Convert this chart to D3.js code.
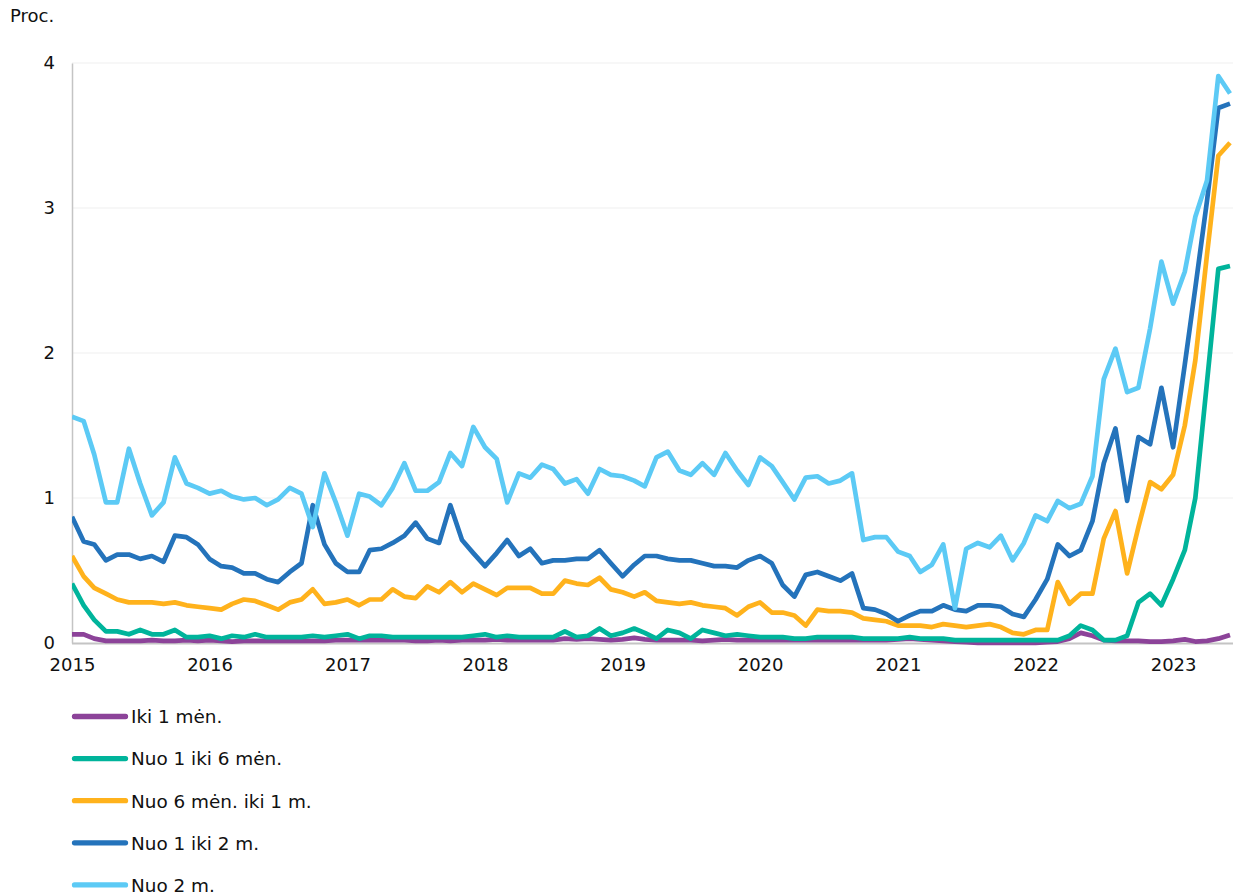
<!DOCTYPE html>
<html>
<head>
<meta charset="utf-8">
<script src="https://cdn.jsdelivr.net/npm/d3@7"></script>
<style>
  html, body { margin: 0; padding: 0; background: #fff; }
  svg { display: block; font-family: "DejaVu Sans", Verdana, sans-serif; }
</style>
</head>
<body>
<svg id="chart" width="1233" height="895"></svg>
<script>
// ---- Data (monthly, Jan 2015 – Jun 2023), percent ----
const startMonth = new Date(2015, 0, 1);
const endMonth = new Date(2023, 5, 1);
const months = d3.timeMonth.range(startMonth, d3.timeMonth.offset(endMonth, 1));

const seriesNames = ["Iki 1 mėn.", "Nuo 1 iki 6 mėn.", "Nuo 6 mėn. iki 1 m.", "Nuo 1 iki 2 m.", "Nuo 2 m."];
const seriesColors = ["#8c4399", "#00b49b", "#ffb21c", "#2473bb", "#5ccaf5"];

const iki1men = [
  0.06,0.06,0.03,0.015,0.015,0.015,0.015,0.02,0.015,0.015,0.02,0.015,
  0.02,0.015,0.01,0.015,0.015,0.015,0.015,0.015,0.015,0.015,0.015,0.02,
  0.02,0.02,0.02,0.02,0.02,0.02,0.015,0.015,0.02,0.015,0.02,0.02,
  0.02,0.025,0.02,0.02,0.02,0.02,0.02,0.03,0.025,0.03,0.025,0.02,
  0.025,0.035,0.025,0.02,0.02,0.02,0.02,0.015,0.02,0.025,0.02,0.02,
  0.02,0.02,0.02,0.02,0.02,0.02,0.02,0.02,0.02,0.02,0.02,0.02,
  0.025,0.03,0.025,0.02,0.015,0.01,0.005,0,0,0,0,0,
  0,0.005,0.01,0.03,0.07,0.05,0.02,0.015,0.015,0.015,0.01,0.01,
  0.015,0.025,0.01,0.015,0.03,0.055
];
const nuo1iki6men = [
  0.41,0.26,0.16,0.08,0.08,0.06,0.09,0.06,0.06,0.09,0.04,0.04,
  0.05,0.03,0.05,0.04,0.06,0.04,0.04,0.04,0.04,0.05,0.04,0.05,
  0.06,0.03,0.05,0.05,0.04,0.04,0.04,0.04,0.04,0.04,0.04,0.05,
  0.06,0.04,0.05,0.04,0.04,0.04,0.04,0.08,0.04,0.05,0.10,0.05,
  0.07,0.10,0.07,0.03,0.09,0.07,0.03,0.09,0.07,0.05,0.06,0.05,
  0.04,0.04,0.04,0.03,0.03,0.04,0.04,0.04,0.04,0.03,0.03,0.03,
  0.03,0.04,0.03,0.03,0.03,0.02,0.02,0.02,0.02,0.02,0.02,0.02,
  0.02,0.02,0.02,0.05,0.12,0.09,0.02,0.02,0.05,0.28,0.34,0.26,
  0.44,0.64,1.00,1.80,2.58,2.60
];
const nuo6men1m = [
  0.60,0.46,0.38,0.34,0.30,0.28,0.28,0.28,0.27,0.28,0.26,0.25,
  0.24,0.23,0.27,0.30,0.29,0.26,0.23,0.28,0.30,0.37,0.27,0.28,
  0.30,0.26,0.30,0.30,0.37,0.32,0.31,0.39,0.35,0.42,0.35,0.41,
  0.37,0.33,0.38,0.38,0.38,0.34,0.34,0.43,0.41,0.40,0.45,0.37,
  0.35,0.32,0.35,0.29,0.28,0.27,0.28,0.26,0.25,0.24,0.19,0.25,
  0.28,0.21,0.21,0.19,0.12,0.23,0.22,0.22,0.21,0.17,0.16,0.15,
  0.12,0.12,0.12,0.11,0.13,0.12,0.11,0.12,0.13,0.11,0.07,0.06,
  0.09,0.09,0.42,0.27,0.34,0.34,0.72,0.91,0.48,0.80,1.11,1.06,
  1.16,1.50,1.95,2.68,3.36,3.45
];
const nuo1iki2m = [
  0.87,0.70,0.68,0.57,0.61,0.61,0.58,0.60,0.56,0.74,0.73,0.68,
  0.58,0.53,0.52,0.48,0.48,0.44,0.42,0.49,0.55,0.95,0.68,0.55,
  0.49,0.49,0.64,0.65,0.69,0.74,0.83,0.72,0.69,0.95,0.71,0.62,
  0.53,0.62,0.71,0.60,0.65,0.55,0.57,0.57,0.58,0.58,0.64,0.55,
  0.46,0.54,0.60,0.60,0.58,0.57,0.57,0.55,0.53,0.53,0.52,0.57,
  0.60,0.55,0.40,0.32,0.47,0.49,0.46,0.43,0.48,0.24,0.23,0.20,
  0.15,0.19,0.22,0.22,0.26,0.23,0.22,0.26,0.26,0.25,0.20,0.18,
  0.30,0.44,0.68,0.60,0.64,0.84,1.24,1.48,0.98,1.42,1.37,1.76,
  1.35,1.92,2.45,3.05,3.69,3.72
];
const nuo2m = [
  1.56,1.53,1.30,0.97,0.97,1.34,1.10,0.88,0.97,1.28,1.10,1.07,
  1.03,1.05,1.01,0.99,1.00,0.95,0.99,1.07,1.03,0.80,1.17,0.97,
  0.74,1.03,1.01,0.95,1.07,1.24,1.05,1.05,1.11,1.31,1.22,1.49,
  1.35,1.27,0.97,1.17,1.14,1.23,1.20,1.10,1.13,1.03,1.20,1.16,
  1.15,1.12,1.08,1.28,1.32,1.19,1.16,1.24,1.16,1.31,1.19,1.09,
  1.28,1.22,1.11,0.99,1.14,1.15,1.10,1.12,1.17,0.71,0.73,0.73,
  0.63,0.60,0.49,0.54,0.68,0.24,0.65,0.69,0.66,0.74,0.57,0.69,
  0.88,0.84,0.98,0.93,0.96,1.15,1.82,2.03,1.73,1.76,2.17,2.63,
  2.34,2.56,2.94,3.19,3.91,3.79
];
const seriesValues = [iki1men, nuo1iki6men, nuo6men1m, nuo1iki2m, nuo2m];

const yTicks = [0, 1, 2, 3, 4];
const xTickYears = [2015, 2016, 2017, 2018, 2019, 2020, 2021, 2022, 2023];
const yUnitLabel = "Proc.";

// ---- Layout ----
const svg = d3.select("#chart");
const plotLeft = 72, plotRight = 1230, plotTop = 63, plotBottom = 643;

const x = d3.scaleTime().domain([startMonth, endMonth]).range([plotLeft, plotRight]);
const y = d3.scaleLinear().domain([0, 4]).range([plotBottom, plotTop]);

// grid lines
svg.append("g").selectAll("line")
  .data(yTicks.filter(d => d > 0))
  .join("line")
  .attr("x1", plotLeft).attr("x2", 1233)
  .attr("y1", d => y(d)).attr("y2", d => y(d))
  .attr("stroke", "#efefef").attr("stroke-width", 1.2);

// y axis
const yAxis = svg.append("g")
  .attr("transform", `translate(${plotLeft},0)`)
  .call(d3.axisLeft(y).tickValues(yTicks).tickSize(0).tickPadding(17).tickFormat(d3.format("d")));
yAxis.select(".domain").attr("stroke", "#c4c4c4").attr("stroke-width", 1.5);
yAxis.selectAll("text").attr("font-size", "18px").attr("fill", "#111")
  .attr("font-family", "DejaVu Sans, Verdana, sans-serif");

// x axis
const xAxis = svg.append("g")
  .attr("transform", `translate(0,${plotBottom})`)
  .call(d3.axisBottom(x).tickValues(xTickYears.map(yr => new Date(yr, 0, 1)))
    .tickSize(0).tickPadding(15).tickFormat(d3.timeFormat("%Y")));
xAxis.select(".domain").attr("d", `M${plotLeft},0.5H1233`).attr("stroke", "#c4c4c4").attr("stroke-width", 2);
xAxis.selectAll("text").attr("font-size", "18px").attr("fill", "#111")
  .attr("font-family", "DejaVu Sans, Verdana, sans-serif");

// unit label
svg.append("text").attr("x", 10).attr("y", 22)
  .attr("font-size", "18px").attr("fill", "#111").text(yUnitLabel);

// clip
svg.append("clipPath").attr("id", "plotclip")
  .append("rect").attr("x", plotLeft).attr("y", 0).attr("width", 1233 - plotLeft).attr("height", plotBottom + 6);

// lines
const line = d3.line()
  .x((d, i) => x(months[i]))
  .y(d => y(d));

svg.append("g").attr("clip-path", "url(#plotclip)")
  .selectAll("path")
  .data(seriesValues)
  .join("path")
  .attr("d", d => line(d))
  .attr("fill", "none")
  .attr("stroke", (d, i) => seriesColors[i])
  .attr("stroke-width", 4.7)
  .attr("stroke-linejoin", "round")
  .attr("stroke-linecap", "butt");

// legend
const legend = svg.append("g");
const legendY0 = 716.5, legendStep = 42.1;
const items = legend.selectAll("g").data(seriesNames).join("g")
  .attr("transform", (d, i) => `translate(0,${legendY0 + i * legendStep})`);
items.append("line")
  .attr("x1", 74.5).attr("x2", 125.5).attr("y1", 0).attr("y2", 0)
  .attr("stroke", (d, i) => seriesColors[i])
  .attr("stroke-width", 5.3).attr("stroke-linecap", "round");
items.append("text")
  .attr("x", 131).attr("y", 0).attr("dy", "0.37em")
  .attr("font-size", "18.4px").attr("fill", "#111")
  .text(d => d);
</script>
</body>
</html>
